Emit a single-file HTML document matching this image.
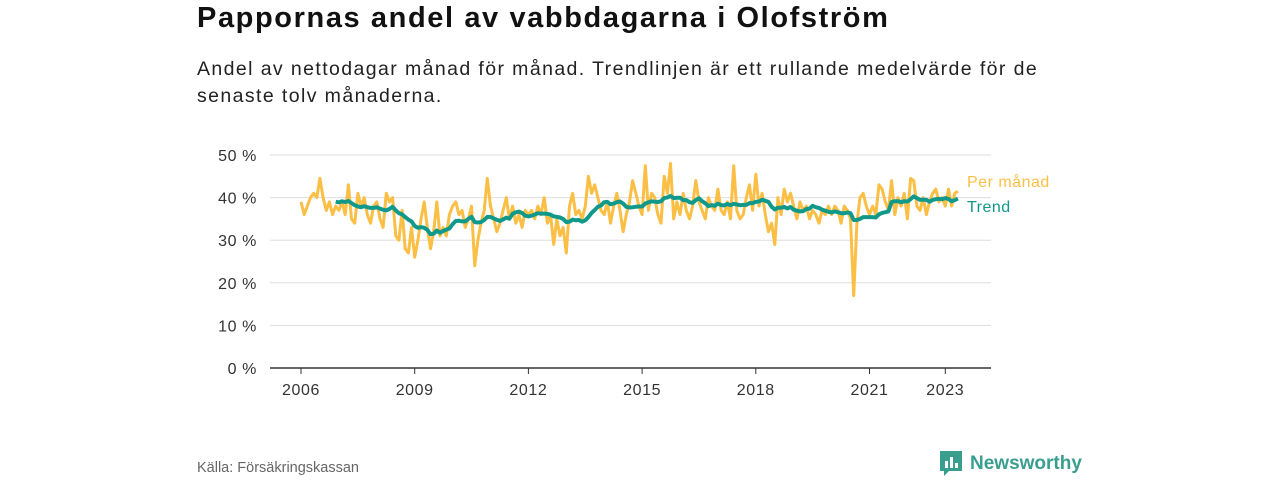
<!DOCTYPE html>
<html><head><meta charset="utf-8"><style>
body{margin:0;width:1280px;height:480px;background:#fff;font-family:"Liberation Sans",sans-serif;overflow:hidden;position:relative}
#title{position:absolute;left:197px;top:2px;font-size:29px;font-weight:bold;color:#111;letter-spacing:1.6px}
#sub{position:absolute;left:197px;top:56px;width:1000px;font-size:19.5px;line-height:27px;color:#222;letter-spacing:1.4px}
#src{position:absolute;left:197px;top:460px;font-size:14.5px;color:#666}
#logo{position:absolute;left:940px;top:451px;font-size:19px;font-weight:bold;color:#3a9e8f;display:flex;align-items:center;gap:8px}
</style></head><body>
<div id="title">Pappornas andel av vabbdagarna i Olofström</div>
<div id="sub">Andel av nettodagar månad för månad. Trendlinjen är ett rullande medelvärde för de<br>senaste tolv månaderna.</div>
<svg id="chart" width="1280" height="480" style="position:absolute;left:0;top:0"></svg>
<div id="src">Källa: Försäkringskassan</div>
<div id="logo"><svg width="22" height="26" viewBox="0 0 22 26"><path d="M0 0H22V20H9L4 25V20H0Z" fill="#3a9e8f"/><rect x="5" y="10" width="3" height="7" fill="#fff"/><rect x="10" y="6" width="3" height="11" fill="#fff"/><rect x="15" y="12" width="3" height="5" fill="#fff"/></svg><span>Newsworthy</span></div>
<script>
const startYear = 2006;
const monthly = [
39,36,38,40,41,40,44.5,40,37,39,36,38,
37,39,36,43,35,34,41,38,40,36,34,38,
39,35,33,41,39,40,31,30,37,28,27,33,
26,30,35,39,33,28,32,39,31,33,31,36,
38,39,36,37,33,35,38,24,30,34,37,44.5,
38,35,32,34,37,40,35,38,34,36,33,37,
36,37,35,38,36,40,34,36,29,35,31,33,
27,38,41,36,37,35,38,45,41,43,40,37,
36,39,34,38,41,37,32,36,39,44,41,38,
36,47.5,37,41,40,36,34,45,41,48,35,39,
36,41,37,35,38,44,39,37,35,40,38,37,
42,37,36,39,35,47.5,37,35,36,40,43,37,
45.5,38,41,36,32,34,29,40,36,42,39,41,
38,35,39,37,38,35,37,36,34,37,36,38,
36,38,37,34,38,37,35,17,34,40,41,38,
36,38,36,43,42,39,37,44,36,40,38,41,
35,44.5,44,38,37,40,36,39,41,42,39,40,
38,42,38,41,41.5];
const yTicks = [0,10,20,30,40,50];
const xTicks = [2006,2009,2012,2015,2018,2021,2023];
const svg = document.getElementById('chart');
const NS = 'http://www.w3.org/2000/svg';
const X = t => 301 + (t - 2006) * 37.9;
const Y = v => 368 - v * 4.26;
function mk(tag, attrs, parent){const e=document.createElementNS(NS,tag);for(const k in attrs)e.setAttribute(k,attrs[k]);(parent||svg).appendChild(e);return e;}
yTicks.forEach(v=>{
  if(v>0){const g=mk('line',{x1:270,x2:991,y1:Y(v),y2:Y(v),stroke:'#ddd','stroke-width':1});
  
  }
  const t=mk('text',{x:257,y:Y(v)+6,'text-anchor':'end','font-size':16,'letter-spacing':0.6,fill:'#333','font-family':'Liberation Sans, sans-serif'});
  t.textContent=v+' %';
  
  
});
const ax=mk('line',{x1:270,x2:991,y1:368,y2:368,stroke:'#333','stroke-width':1.5});


xTicks.forEach(yr=>{
  mk('line',{x1:X(yr),x2:X(yr),y1:368,y2:374,stroke:'#333'});
  const t=mk('text',{x:X(yr),y:395,'text-anchor':'middle','font-size':16,'letter-spacing':0.6,fill:'#333','font-family':'Liberation Sans, sans-serif'});
  t.textContent=yr;
  
  
});
const tm = i => startYear + i/12;
const mp = monthly.map((v,i)=>(i?'L':'M')+X(tm(i)).toFixed(1)+' '+Y(v).toFixed(1)).join(' ');
const ml=mk('path',{d:mp,fill:'none',stroke:'#fbbf45','stroke-width':3,'stroke-linejoin':'round'});


let tp='';
for(let i=11;i<monthly.length;i++){let s=0;for(let j=i-11;j<=i;j++)s+=monthly[j];const v=s/12;tp+=(tp?'L':'M')+X(tm(i)).toFixed(1)+' '+Y(v).toFixed(1)+' ';}
const tl=mk('path',{d:tp,fill:'none',stroke:'#10998a','stroke-width':4,'stroke-linejoin':'round'});


const l1=mk('text',{x:967,y:187,'font-size':16,'letter-spacing':0.5,fill:'#fbbf45','font-family':'Liberation Sans, sans-serif'});
l1.textContent='Per månad';


const l2=mk('text',{x:967,y:212,'font-size':16,'letter-spacing':0.5,fill:'#10998a','font-family':'Liberation Sans, sans-serif'});
l2.textContent='Trend';


</script>
</body></html>
